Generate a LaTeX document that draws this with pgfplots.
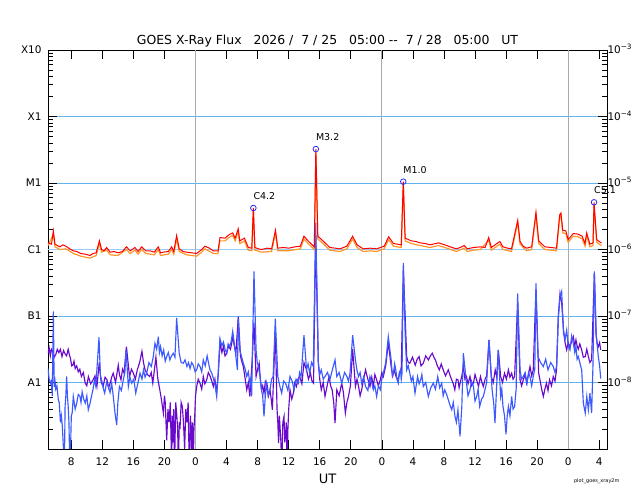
\documentclass[border=0pt]{standalone}
\usepackage{pgfplots}
\pgfplotsset{compat=1.18}
\usepackage{fontspec}
\setmainfont{DejaVu Sans}
\definecolor{goesred}{RGB}{255,0,0}
\definecolor{goesorange}{RGB}{255,150,40}
\definecolor{goesblue}{RGB}{60,90,255}
\definecolor{goespurple}{RGB}{105,10,205}
\definecolor{gridblue}{RGB}{95,180,240}
\definecolor{cblue}{RGB}{150,205,245}
\definecolor{daygray}{RGB}{170,170,170}
\definecolor{markblue}{RGB}{40,40,255}
\pgfplotsset{
  goesframe/.style={
    at={(0,0)}, anchor=south west, scale only axis,
    width=559bp, height=399bp,
    xmin=0, xmax=72, ymin=-9, ymax=-3,
    tick align=inside,
    major tick length=9bp, minor tick length=5bp,
    tick style={black, line width=0.7pt},
    axis line style={line width=0.8pt},
    minor ytick={-8.699,-8.523,-8.398,-8.301,-8.222,-8.155,-8.097,-8.046,
      -7.699,-7.523,-7.398,-7.301,-7.222,-7.155,-7.097,-7.046,
      -6.699,-6.523,-6.398,-6.301,-6.222,-6.155,-6.097,-6.046,
      -5.699,-5.523,-5.398,-5.301,-5.222,-5.155,-5.097,-5.046,
      -4.699,-4.523,-4.398,-4.301,-4.222,-4.155,-4.097,-4.046,
      -3.699,-3.523,-3.398,-3.301,-3.222,-3.155,-3.097,-3.046},
  }
}
\begin{document}
\begin{tikzpicture}
\begin{axis}[goesframe, name=main,
  clip mode=individual,
  xtick={3,7,...,71},
  xticklabels={8,12,16,20,0,4,8,12,16,20,0,4,8,12,16,20,0,4},
  xtick pos=both,
  xticklabel style={font=\fontsize{10.5}{12}\selectfont, yshift=-5bp},
  ytick={-8,-7,-6,-5,-4,-3},
  yticklabels={A1,B1,C1,M1,X1,X10},
  ytick pos=left,
  yticklabel style={font=\fontsize{10.5}{12}\selectfont, xshift=-3bp},
  ymajorgrids, major grid style={gridblue, line width=0.8pt},
]
% C1 reference line (thicker, lighter)
\addplot[cblue, line width=2pt] coordinates {(0,-6) (72,-6)};
% day boundaries
\addplot[daygray, line width=1pt] coordinates {(19,-9) (19,-3)};
\addplot[daygray, line width=1pt] coordinates {(43,-9) (43,-3)};
\addplot[daygray, line width=1pt] coordinates {(67,-9) (67,-3)};

% short channel, secondary (purple)
\addplot[goespurple, line width=1.15pt] coordinates {
(0.0,-7.56) (0.15,-7.48) (0.3,-7.6) (0.45,-7.5) (0.6,-7.53) (0.8,-7.62) (1.0,-7.58) (1.2,-7.5) (1.4,-7.55) (1.6,-7.5) (1.8,-7.61) (2.0,-7.52) (2.2,-7.57) (2.4,-7.6) (2.6,-7.5) (2.75,-7.58) (2.9,-7.64) (3.05,-7.75) (3.2,-7.74) (3.35,-7.68) (3.5,-7.79) (3.7,-7.75) (3.9,-7.84) (4.1,-7.8) (4.3,-7.91) (4.55,-7.85) (4.8,-8.01) (5.0,-8.05) (5.2,-7.91) (5.5,-8.02) (5.8,-7.96) (6.05,-7.9) (6.3,-8.06) (6.6,-7.7) (6.85,-8.0) (7.1,-8.06) (7.35,-7.92) (7.6,-7.96) (7.8,-8.08) (8.0,-8.01) (8.2,-7.92) (8.4,-7.86) (8.7,-8.0) (9.05,-7.74) (9.2,-7.88) (9.4,-7.96) (9.6,-7.8) (9.8,-7.86) (10.1,-7.46) (10.5,-7.91) (10.75,-7.8) (11.0,-7.86) (11.25,-7.95) (11.5,-7.81) (11.8,-7.7) (12.1,-7.53) (12.3,-7.7) (12.5,-7.81) (12.8,-7.88) (13.1,-7.91) (13.3,-7.85) (13.5,-8.01) (13.9,-7.62) (14.15,-7.95) (14.4,-8.11) (14.6,-8.25) (14.86,-8.46) (15.0,-8.2) (15.1,-8.3) (15.2,-8.6) (15.29,-8.87) (15.45,-8.4) (15.6,-8.6) (15.75,-8.3) (15.93,-9.3) (16.0,-8.5) (16.1,-8.9) (16.2,-8.4) (16.3,-9.3) (16.45,-8.3) (16.57,-8.46) (16.7,-8.7) (16.8,-9.3) (16.9,-8.6) (17.0,-8.7) (17.15,-8.3) (17.3,-8.36) (17.45,-8.6) (17.6,-9.0) (17.75,-8.4) (17.9,-8.6) (18.05,-8.3) (18.2,-9.3) (18.35,-8.5) (18.5,-9.0) (18.6,-8.6) (18.7,-9.3) (18.8,-8.7) (18.9,-8.5) (19.0,-8.2) (19.15,-8.06) (19.35,-7.95) (19.58,-8.01) (19.8,-8.1) (20.0,-7.91) (20.2,-8.02) (20.44,-7.96) (20.65,-7.85) (20.9,-7.91) (21.1,-7.98) (21.3,-8.06) (21.5,-7.95) (21.7,-8.16) (21.94,-7.86) (22.15,-7.4) (22.4,-7.55) (22.6,-7.46) (22.8,-7.6) (23.02,-7.56) (23.25,-7.45) (23.5,-7.5) (23.65,-7.42) (23.79,-7.3) (24.0,-7.45) (24.2,-7.56) (24.51,-7.01) (24.8,-7.61) (25.0,-7.7) (25.16,-7.76) (25.4,-7.95) (25.6,-8.11) (25.8,-8.0) (26.0,-8.21) (26.3,-7.66) (26.53,-7.1) (26.8,-7.91) (27.0,-7.8) (27.2,-7.71) (27.35,-7.95) (27.5,-8.11) (27.65,-8.05) (27.82,-8.16) (28.0,-7.98) (28.2,-8.01) (28.4,-8.2) (28.59,-8.11) (28.75,-8.25) (28.9,-8.41) (29.28,-7.2) (29.5,-8.4) (29.6,-8.6) (29.7,-8.91) (29.8,-8.5) (29.9,-8.7) (30.0,-8.9) (30.1,-9.3) (30.25,-8.6) (30.4,-8.51) (30.5,-8.9) (30.6,-8.8) (30.7,-8.6) (30.8,-9.3) (30.9,-8.7) (31.0,-8.41) (31.17,-8.11) (31.4,-8.25) (31.6,-8.16) (31.8,-8.0) (32.0,-8.06) (32.2,-7.95) (32.4,-7.91) (32.7,-8.02) (32.97,-7.7) (33.3,-7.81) (33.55,-7.95) (33.8,-7.86) (34.0,-7.98) (34.2,-8.01) (34.48,-5.8) (34.82,-7.7) (35.0,-7.95) (35.2,-8.11) (35.45,-8.0) (35.68,-8.21) (35.95,-8.05) (36.2,-7.91) (36.4,-8.05) (36.6,-8.11) (36.8,-8.3) (36.97,-8.61) (37.2,-8.11) (37.5,-8.2) (37.83,-8.01) (38.05,-8.15) (38.3,-8.46) (38.5,-8.3) (38.7,-8.21) (38.95,-8.05) (39.24,-7.5) (39.6,-8.06) (39.8,-7.95) (40.0,-8.06) (40.2,-8.2) (40.4,-8.11) (40.65,-7.95) (40.9,-7.81) (41.2,-7.95) (41.47,-8.06) (41.7,-7.92) (41.9,-8.06) (42.1,-7.88) (42.33,-7.96) (42.55,-8.05) (42.8,-7.96) (43.0,-7.85) (43.19,-7.91) (43.5,-7.75) (43.83,-7.4) (44.2,-7.76) (44.4,-7.9) (44.6,-7.81) (44.85,-7.92) (45.1,-7.96) (45.3,-7.85) (45.5,-7.81) (45.77,-6.3) (46.2,-7.61) (46.4,-7.7) (46.6,-7.71) (46.95,-7.62) (47.3,-7.74) (47.55,-7.65) (47.8,-7.61) (48.05,-7.75) (48.34,-7.71) (48.65,-7.6) (49.0,-7.66) (49.25,-7.6) (49.5,-7.56) (49.7,-7.62) (49.9,-7.66) (50.15,-7.75) (50.4,-7.81) (50.65,-7.72) (50.9,-7.81) (51.2,-7.9) (51.56,-7.81) (51.8,-7.9) (52.0,-7.96) (52.2,-8.02) (52.4,-8.11) (52.6,-7.95) (52.8,-7.96) (52.95,-8.08) (53.1,-8.0) (53.3,-7.9) (53.5,-7.76) (53.7,-7.95) (53.9,-7.91) (54.1,-8.02) (54.35,-7.91) (54.55,-8.05) (54.8,-8.01) (55.0,-7.88) (55.2,-7.96) (55.45,-8.06) (55.7,-7.91) (55.9,-8.0) (56.07,-8.06) (56.3,-7.95) (56.5,-7.9) (56.8,-7.36) (57.1,-7.91) (57.35,-8.0) (57.6,-7.81) (57.8,-7.92) (58.0,-7.51) (58.3,-7.91) (58.55,-8.0) (58.8,-7.86) (59.05,-7.95) (59.3,-7.81) (59.5,-7.92) (59.72,-7.86) (59.9,-7.95) (60.1,-7.91) (60.49,-6.8) (60.8,-7.96) (61.0,-8.05) (61.22,-7.96) (61.45,-7.88) (61.65,-8.01) (61.85,-7.9) (62.08,-7.76) (62.3,-7.9) (62.5,-7.81) (62.85,-6.6) (63.2,-7.86) (63.4,-7.98) (63.6,-8.11) (63.8,-8.21) (64.0,-8.1) (64.2,-8.01) (64.4,-8.12) (64.6,-7.96) (64.85,-8.05) (65.08,-7.91) (65.3,-7.98) (65.5,-7.81) (65.73,-7.0) (65.95,-6.66) (66.16,-6.8) (66.4,-7.21) (66.6,-7.4) (66.8,-7.51) (67.0,-7.4) (67.23,-7.46) (67.45,-7.38) (67.66,-7.31) (67.85,-7.45) (68.0,-7.36) (68.15,-7.45) (68.3,-7.5) (68.5,-7.42) (68.74,-7.51) (68.95,-7.62) (69.2,-7.61) (69.4,-7.5) (69.6,-7.61) (69.8,-7.7) (70.02,-7.66) (70.37,-6.36) (70.6,-7.3) (70.75,-7.42) (70.88,-7.46) (71.05,-7.4) (71.19,-7.51)
};

% short channel, primary (blue)
\addplot[goesblue, line width=1.15pt] coordinates {
(0.0,-7.79) (0.15,-7.95) (0.3,-8.01) (0.42,-7.98) (0.55,-8.2) (0.69,-6.93) (0.8,-8.07) (0.9,-7.98) (1.0,-8.1) (1.15,-8.05) (1.33,-8.26) (1.45,-8.3) (1.6,-8.6) (1.72,-8.5) (1.85,-8.67) (1.98,-8.97) (2.1,-9.4) (2.2,-8.36) (2.3,-8.2) (2.4,-7.91) (2.5,-8.2) (2.6,-8.36) (2.7,-8.6) (2.83,-9.4) (3.0,-8.51) (3.12,-8.45) (3.26,-8.21) (3.5,-8.4) (3.7,-8.31) (3.9,-8.18) (4.12,-8.21) (4.25,-8.3) (4.4,-8.14) (4.6,-8.25) (4.8,-8.31) (5.0,-8.2) (5.19,-8.41) (5.4,-8.32) (5.6,-8.21) (5.8,-8.1) (6.0,-7.96) (6.15,-8.05) (6.27,-7.86) (6.57,-7.32) (6.75,-7.9) (6.91,-7.96) (7.1,-8.08) (7.3,-8.16) (7.55,-8.0) (7.77,-8.06) (8.0,-8.15) (8.2,-8.01) (8.4,-8.2) (8.63,-8.46) (8.85,-8.64) (9.0,-8.3) (9.2,-8.06) (9.45,-8.12) (9.7,-7.96) (9.9,-7.85) (10.05,-7.51) (10.35,-8.06) (10.55,-7.92) (10.78,-8.01) (11.05,-7.95) (11.3,-8.16) (11.6,-8.0) (11.85,-7.86) (12.1,-7.95) (12.3,-7.81) (12.5,-7.92) (12.71,-7.86) (13.0,-7.7) (13.3,-7.76) (13.55,-7.62) (13.78,-7.41) (14.0,-7.5) (14.21,-7.31) (14.35,-7.55) (14.5,-7.46) (14.7,-7.6) (14.9,-7.51) (15.1,-7.68) (15.29,-7.61) (15.5,-7.55) (15.7,-7.66) (15.9,-7.6) (16.14,-7.56) (16.35,-7.62) (16.57,-7.03) (16.9,-7.56) (17.15,-7.7) (17.43,-7.71) (17.65,-7.66) (17.9,-7.76) (18.1,-7.7) (18.3,-7.79) (18.5,-7.7) (18.72,-7.74) (18.95,-7.84) (19.15,-7.81) (19.35,-7.72) (19.58,-7.76) (19.8,-7.84) (20.0,-7.66) (20.25,-7.75) (20.5,-7.6) (20.7,-7.72) (20.87,-7.81) (21.1,-7.86) (21.3,-7.94) (21.5,-8.02) (21.73,-8.21) (21.9,-7.9) (22.15,-7.34) (22.4,-7.45) (22.6,-7.39) (22.8,-7.5) (23.02,-7.56) (23.2,-7.42) (23.4,-7.46) (23.6,-7.38) (23.79,-7.23) (24.1,-7.51) (24.25,-7.66) (24.4,-7.81) (24.51,-7.04) (24.7,-7.51) (24.95,-7.62) (25.16,-7.71) (25.4,-7.8) (25.6,-7.91) (25.8,-7.84) (26.0,-8.01) (26.12,-7.95) (26.23,-8.21) (26.53,-6.33) (26.8,-7.51) (26.95,-7.7) (27.09,-7.76) (27.3,-7.9) (27.5,-8.11) (27.65,-8.2) (27.82,-8.51) (28.1,-8.01) (28.35,-8.2) (28.59,-8.11) (28.8,-7.95) (29.0,-7.91) (29.28,-7.04) (29.6,-7.91) (29.85,-8.05) (30.1,-8.16) (30.35,-7.98) (30.6,-8.01) (30.9,-8.12) (31.17,-7.91) (31.45,-7.98) (31.7,-8.11) (31.95,-7.95) (32.24,-8.01) (32.4,-7.85) (32.6,-7.91) (32.97,-7.29) (33.3,-7.81) (33.5,-7.72) (33.7,-7.86) (33.95,-7.7) (34.17,-7.76) (34.48,-5.6) (34.82,-7.71) (35.0,-7.88) (35.2,-7.81) (35.45,-7.95) (35.68,-7.91) (36.0,-7.85) (36.3,-7.96) (36.6,-7.82) (36.97,-7.66) (37.2,-7.91) (37.5,-7.85) (37.83,-8.01) (38.2,-7.85) (38.5,-7.91) (38.7,-7.98) (38.9,-7.86) (39.24,-7.29) (39.6,-7.66) (39.8,-7.82) (40.0,-7.91) (40.2,-7.85) (40.4,-8.01) (40.65,-7.92) (40.9,-8.06) (41.2,-8.12) (41.47,-7.91) (41.7,-8.0) (41.9,-8.11) (42.1,-8.05) (42.33,-8.21) (42.55,-8.05) (42.8,-8.11) (43.0,-7.95) (43.19,-7.86) (43.5,-7.7) (43.83,-7.31) (44.2,-7.66) (44.35,-7.9) (44.5,-7.86) (44.65,-7.72) (44.8,-7.81) (44.95,-7.95) (45.12,-8.01) (45.25,-7.85) (45.4,-7.81) (45.5,-7.95) (45.6,-7.86) (45.77,-6.2) (46.0,-7.26) (46.2,-7.81) (46.4,-7.75) (46.6,-7.86) (46.8,-7.98) (47.0,-7.91) (47.27,-8.16) (47.6,-7.91) (47.8,-8.02) (48.0,-7.96) (48.15,-7.88) (48.34,-8.06) (48.65,-8.0) (48.99,-8.21) (49.3,-8.08) (49.63,-8.01) (49.9,-8.1) (50.2,-7.91) (50.45,-8.08) (50.71,-8.01) (50.9,-8.2) (51.1,-8.11) (51.35,-8.18) (51.56,-8.26) (51.8,-8.35) (52.0,-8.41) (52.2,-8.3) (52.42,-8.51) (52.6,-8.6) (52.8,-8.41) (53.07,-8.81) (53.3,-8.36) (53.5,-7.56) (53.9,-8.01) (54.1,-8.2) (54.35,-8.11) (54.55,-7.98) (54.8,-8.06) (55.0,-8.28) (55.22,-8.21) (55.4,-8.1) (55.6,-8.36) (55.85,-8.25) (56.07,-8.21) (56.3,-8.1) (56.5,-8.0) (56.8,-7.36) (57.2,-8.11) (57.4,-8.3) (57.57,-8.61) (58.0,-7.51) (58.3,-8.21) (58.45,-8.1) (58.6,-8.36) (58.8,-8.5) (58.99,-8.78) (59.15,-8.5) (59.3,-8.36) (59.5,-8.5) (59.72,-8.21) (59.9,-8.4) (60.1,-8.36) (60.3,-8.1) (60.49,-6.66) (60.8,-7.81) (61.0,-7.95) (61.22,-7.91) (61.45,-7.85) (61.7,-8.01) (61.9,-7.85) (62.08,-7.91) (62.3,-8.05) (62.5,-7.91) (62.7,-7.8) (62.85,-6.51) (63.1,-7.61) (63.45,-7.7) (63.8,-7.76) (64.1,-7.65) (64.4,-7.81) (64.75,-7.7) (65.08,-7.76) (65.3,-7.85) (65.5,-7.76) (65.73,-7.03) (65.95,-6.71) (66.16,-6.63) (66.4,-7.26) (66.6,-7.35) (66.81,-7.21) (67.0,-7.45) (67.23,-7.51) (67.45,-7.3) (67.66,-7.41) (67.85,-7.55) (68.0,-7.46) (68.15,-7.65) (68.3,-7.61) (68.5,-7.7) (68.74,-7.81) (68.95,-8.31) (69.2,-8.46) (69.4,-8.21) (69.6,-8.41) (69.8,-8.16) (70.02,-8.46) (70.2,-7.71) (70.37,-6.33) (70.6,-7.26) (70.75,-7.45) (70.88,-7.61) (71.05,-7.75) (71.19,-7.94)
};

% long channel, secondary (orange)
\addplot[goesorange, line width=1.2pt] coordinates {
(0,-5.94) (0.69,-5.77) (0.9,-5.96) (1.55,-6.0) (2.3,-5.99) (3.26,-6.06) (4.2,-6.1) (5.41,-6.13) (6.2,-6.09) (6.62,-5.91) (6.9,-6.04) (7.56,-6.01) (8.0,-6.08) (9.0,-6.09) (10.1,-6.0) (10.6,-6.06) (11.2,-6.01) (11.6,-6.07) (12.07,-6.0) (12.6,-6.06) (13.7,-6.08) (14.2,-6.0) (14.5,-6.09) (15.5,-6.07) (15.93,-6.0) (16.2,-6.07) (16.57,-5.84) (16.9,-6.03) (17.86,-6.08) (19.15,-6.1) (19.8,-6.04) (20.2,-5.99) (21.3,-6.06) (21.9,-6.06) (22.15,-5.87) (22.8,-5.87) (23.3,-5.82) (23.79,-5.79) (24.1,-5.87) (24.5,-5.73) (24.7,-5.91) (25.3,-5.87) (25.8,-6.01) (26.25,-6.02) (26.45,-5.41) (26.65,-6.01) (27.5,-6.04) (28.8,-6.03) (29.3,-5.75) (29.6,-6.02) (31.0,-6.02) (32.5,-5.99) (32.97,-5.84) (33.5,-5.91) (34.3,-6.0) (34.5,-4.53) (34.75,-5.84) (35.5,-5.92) (36.3,-6.01) (37.6,-6.03) (38.5,-5.99) (39.24,-5.84) (39.8,-5.97) (40.6,-6.03) (41.5,-6.02) (42.33,-6.03) (43.3,-5.99) (43.88,-5.85) (44.5,-5.95) (45.5,-5.97) (45.76,-5.02) (46.0,-5.87) (46.8,-5.91) (47.9,-5.94) (49.2,-5.97) (50.3,-5.94) (51.1,-5.97) (52.6,-6.03) (53.6,-5.98) (54.0,-6.03) (54.8,-6.01) (55.7,-6.0) (56.76,-5.86) (57.1,-6.01) (58.2,-5.92) (58.6,-6.0) (59.7,-6.03) (60.5,-5.6) (60.8,-5.92) (61.65,-6.02) (62.3,-6.0) (62.85,-5.48) (63.2,-5.91) (64.0,-6.0) (65.5,-6.02) (65.9,-5.52) (66.07,-5.49) (66.3,-5.75) (66.7,-5.76) (67.0,-5.89) (67.66,-5.8) (68.3,-5.81) (68.8,-5.84) (69.17,-5.95) (69.38,-5.79) (69.8,-5.96) (70.2,-5.94) (70.33,-5.33) (70.67,-5.89) (71.1,-5.93) (71.3,-5.94)
};

% long channel, primary (red)
\addplot[goesred, line width=1.0pt] coordinates {
(0,-5.90) (0.45,-5.92) (0.69,-5.72) (0.9,-5.92) (1.2,-5.94) (1.55,-5.96) (1.9,-5.93) (2.3,-5.95) (2.8,-5.99) (3.26,-6.02) (3.7,-6.03) (4.2,-6.06) (4.8,-6.07) (5.41,-6.09) (5.8,-6.06) (6.2,-6.05) (6.62,-5.87) (6.9,-6.0) (7.2,-6.02) (7.56,-5.97) (8.0,-6.04) (8.5,-6.03) (9.0,-6.05) (9.6,-6.03) (10.1,-5.96) (10.6,-6.02) (11.2,-5.97) (11.6,-6.03) (12.07,-5.96) (12.6,-6.02) (13.14,-6.02) (13.7,-6.04) (14.2,-5.96) (14.5,-6.05) (14.85,-6.04) (15.5,-6.03) (15.93,-5.96) (16.2,-6.03) (16.57,-5.79) (16.9,-5.99) (17.4,-6.03) (17.86,-6.04) (18.5,-6.05) (19.15,-6.06) (19.8,-6.0) (20.2,-5.95) (20.8,-5.98) (21.3,-6.02) (21.9,-6.02) (22.15,-5.82) (22.8,-5.83) (23.3,-5.78) (23.79,-5.75) (24.1,-5.83) (24.5,-5.69) (24.7,-5.87) (25.3,-5.83) (25.8,-5.97) (26.25,-5.98) (26.45,-5.376) (26.65,-5.97) (27.1,-5.99) (27.5,-6.0) (28.2,-5.98) (28.8,-5.99) (29.3,-5.71) (29.6,-5.98) (30.3,-5.97) (31.0,-5.98) (31.8,-5.96) (32.5,-5.95) (32.97,-5.80) (33.5,-5.87) (34.3,-5.96) (34.5,-4.49) (34.75,-5.8) (35.5,-5.88) (36.3,-5.97) (37.0,-5.98) (37.6,-5.99) (38.5,-5.95) (39.24,-5.80) (39.8,-5.93) (40.6,-5.99) (41.5,-5.98) (42.33,-5.99) (43.3,-5.95) (43.88,-5.81) (44.5,-5.91) (45.5,-5.93) (45.76,-4.98) (46.0,-5.83) (46.8,-5.87) (47.4,-5.88) (47.9,-5.9) (48.6,-5.91) (49.2,-5.93) (50.3,-5.9) (51.1,-5.93) (51.8,-5.96) (52.6,-5.99) (53.1,-5.97) (53.6,-5.94) (54.0,-5.99) (54.8,-5.97) (55.7,-5.96) (56.3,-5.97) (56.76,-5.82) (57.1,-5.97) (58.2,-5.88) (58.6,-5.96) (59.2,-5.98) (59.7,-5.99) (60.5,-5.56) (60.8,-5.88) (61.2,-5.95) (61.65,-5.98) (62.3,-5.96) (62.85,-5.44) (63.2,-5.87) (64.0,-5.96) (64.8,-5.97) (65.5,-5.98) (65.9,-5.48) (66.07,-5.45) (66.3,-5.71) (66.7,-5.72) (67.0,-5.85) (67.66,-5.76) (68.3,-5.77) (68.8,-5.8) (69.17,-5.91) (69.38,-5.75) (69.8,-5.92) (70.2,-5.9) (70.33,-5.29) (70.67,-5.85) (71.1,-5.89) (71.3,-5.9)
};

% flare peak markers
\addplot[only marks, mark=o, mark size=2.8pt, mark options={markblue, line width=0.8pt}] coordinates {
(26.45,-5.376) (34.5,-4.49) (45.76,-4.98) (70.33,-5.29)
};
\node[anchor=south west, inner sep=0pt, font=\fontsize{9.5}{11}\selectfont] at ([yshift=8bp]axis cs:26.45,-5.376) {C4.2};
\node[anchor=south west, inner sep=0pt, font=\fontsize{9.5}{11}\selectfont] at ([yshift=8bp]axis cs:34.5,-4.49) {M3.2};
\node[anchor=south west, inner sep=0pt, font=\fontsize{9.5}{11}\selectfont] at ([yshift=8bp]axis cs:45.76,-4.98) {M1.0};
\node[anchor=south west, inner sep=0pt, font=\fontsize{9.5}{11}\selectfont] at ([yshift=8bp]axis cs:70.33,-5.29) {C5.1};
\end{axis}

\begin{axis}[goesframe,
  hide x axis,
  axis y line*=right,
  y axis line style={-},
  ytick={-8,-7,-6,-5,-4,-3},
  yticklabels={10\textsuperscript{−8},10\textsuperscript{−7},10\textsuperscript{−6},10\textsuperscript{−5},10\textsuperscript{−4},10\textsuperscript{−3}},
  yticklabel style={font=\fontsize{10.5}{12}\selectfont, anchor=base west, xshift=-3bp, yshift=-3.5bp},
]
\end{axis}

\node[anchor=base, font=\fontsize{12.5}{14}\selectfont] at ([yshift=6bp]main.north)
  {GOES X-Ray Flux\ \ \ 2026 /\ \ 7 / 25\ \ \ 05:00 {-}{-}\ \ 7 / 28\ \ \ 05:00\ \ \ UT};
\node[anchor=base, font=\fontsize{13}{15}\selectfont] at ([yshift=-34bp]main.south) {UT};
\node[anchor=east, font=\fontsize{5}{6}\selectfont] at ([xshift=16bp,yshift=-32bp]main.south east) {plot\_goes\_xray2m};

\pgfresetboundingbox
\path[use as bounding box] (-48bp,-51bp) rectangle (592bp,449bp);
\end{tikzpicture}
\end{document}
